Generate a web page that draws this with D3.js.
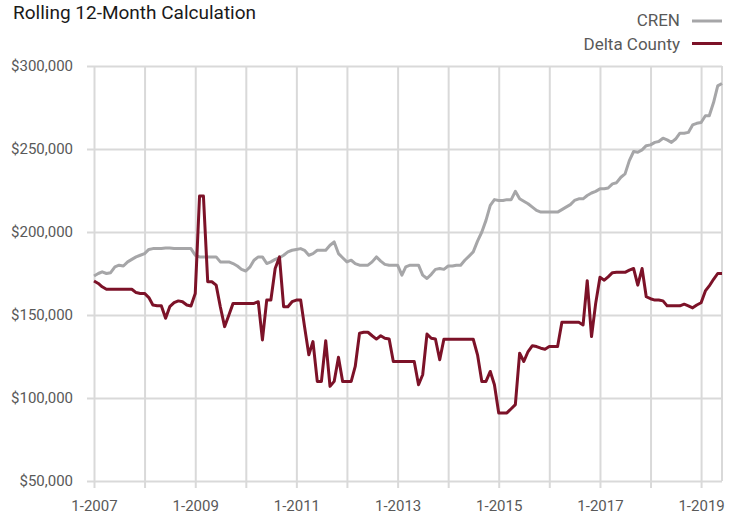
<!DOCTYPE html>
<html>
<head>
<meta charset="utf-8">
<script src="https://cdn.jsdelivr.net/npm/d3@7"></script>
<style>
  html, body { margin: 0; padding: 0; background: #fff; }
  svg text { font-family: Roboto, "Liberation Sans", Arial, sans-serif; }
</style>
</head>
<body>
<svg id="chart" width="740" height="515"></svg>
<script>
// ---- Data (values in $ thousands, monthly Jan 2007 – Jun 2019) ----
const startMonth = new Date(2007, 0, 1);
const endMonth = new Date(2019, 5, 1);
const months = d3.timeMonth.range(startMonth, d3.timeMonth.offset(endMonth, 1));

const crenValues = [
  173.5,175,176,175,175.5,179,180,179.5,182,183.5,
  185,186,187,189.5,190,190,190,190.3,190.3,190,
  190,190,190,190,186,185,185,185,185,185,
  182,182,182,181,179.5,177.5,176.5,179,183,185,
  185,181,182,183.5,184.5,186,188,189,189.5,190,
  189,186,187,189,189,189,192,194,187,184.5,
  182,183,181,180,180,180,182,185,182.5,180.5,
  180,180,180,174,179,180,180,180,174,172,
  174.5,177.5,178,177.5,179.5,179.5,180,180,183,185.5,
  188,194.5,200,207,216,219.5,219,219,219.5,219.5,
  224.5,220,218.5,217,215,213,212,212,212,212,
  212,213.5,215,216.5,219,220,220,222,223.5,224.5,
  226,226,226.5,229,229.7,233,235,243,248.5,248,
  249.5,252,252.5,254,254.5,256.5,255.5,254,256,259.5,
  259.5,260,264.5,265.5,266,270,270,278,288,289.5
];

const deltaValues = [
  170.5,169,167,165.5,165.5,165.5,165.5,165.5,165.5,165.5,
  163.5,163,163,160.5,156,155.6,155.6,148,155,157.4,
  158.5,158,156,155.4,163,221.7,221.7,170,170,168,
  155,143,150,157,157,157,157,157,157,158,
  135,159,159,178,185,155,155,158,159,159,
  143,126,134,110,110,134.5,107,110,124.5,110,
  110,110,119,139,139.6,139.6,137.5,135.5,137.5,136,
  135.5,122,122,122,122,122,122,108,114,138.5,
  136,135.5,123,135.4,135.4,135.4,135.4,135.4,135.4,135.4,
  135.4,126,110,110,116,108,91,91,91,93.5,
  96,127,122,128,131.5,131,130,129.4,131,131,
  131,145.6,145.6,145.6,145.6,145.6,144,170.7,137,157,
  172.7,171,173,175.5,175.7,175.7,175.7,177,178,168,
  178,161,159.8,159,159,158.5,155.5,155.5,155.5,155.5,
  156.5,155.5,154.3,156,157.4,164.5,167.5,171.5,175,175
];

const seriesNames = ["CREN", "Delta County"];
const seriesColors = ["#a6a6a8", "#7c1228"];
const yTickValues = [50000, 100000, 150000, 200000, 250000, 300000];
const xTickYears = [2007,2008,2009,2010,2011,2012,2013,2014,2015,2016,2017,2018,2019];
const xLabelYears = [2007,2009,2011,2013,2015,2017,2019];
const titleText = "Rolling 12-Month Calculation";

// ---- Layout ----
const svg = d3.select("#chart");
const plotLeft = 94, plotRight = 722, plotTop = 66, plotBottom = 481;

const x = d3.scaleTime().domain([startMonth, endMonth]).range([plotLeft, plotRight]);
const y = d3.scaleLinear().domain([50000, 300000]).range([plotBottom, plotTop]);

const gridColor = "#d9d9d9";
const textColor = "#595959";

// horizontal grid + left ticks
const gy = svg.append("g")
  .attr("transform", `translate(${plotLeft},0)`)
  .call(d3.axisLeft(y).tickValues(yTickValues).tickSize(7).tickPadding(14)
    .tickFormat(d => "$" + d3.format(",")(d)));
gy.select(".domain").remove();
gy.selectAll(".tick line").attr("stroke", gridColor).attr("stroke-width", 2);
gy.selectAll(".tick").append("line")
  .attr("x1", 0).attr("x2", plotRight - plotLeft)
  .attr("stroke", gridColor).attr("stroke-width", 2);
gy.selectAll(".tick text").attr("fill", textColor).style("font-size", "15px");

// vertical grid + bottom ticks
const xTicks = xTickYears.map(yr => new Date(yr, 0, 1));
const gx = svg.append("g")
  .attr("transform", `translate(0,${plotBottom})`)
  .call(d3.axisBottom(x).tickValues(xTicks).tickSize(7).tickPadding(12)
    .tickFormat(d => xLabelYears.includes(d.getFullYear()) ? "1-" + d.getFullYear() : ""));
gx.select(".domain").remove();
gx.selectAll(".tick line").attr("stroke", gridColor).attr("stroke-width", 2);
gx.selectAll(".tick").append("line")
  .attr("y1", 0).attr("y2", plotTop - plotBottom)
  .attr("stroke", gridColor).attr("stroke-width", 2);
gx.selectAll(".tick text").attr("fill", textColor).style("font-size", "15px");

// right border line
svg.append("line")
  .attr("x1", plotRight).attr("x2", plotRight).attr("y1", plotTop).attr("y2", plotBottom)
  .attr("stroke", gridColor).attr("stroke-width", 2);

// ---- Lines ----
const line = d3.line()
  .x(d => x(d.date))
  .y(d => y(d.value * 1000));

[crenValues, deltaValues].forEach((vals, i) => {
  const data = months.map((m, k) => ({ date: m, value: vals[k] }));
  svg.append("path")
    .datum(data)
    .attr("fill", "none")
    .attr("stroke", seriesColors[i])
    .attr("stroke-width", 3)
    .attr("stroke-linejoin", "round")
    .attr("stroke-linecap", "butt")
    .attr("d", line);
});

// ---- Title ----
svg.append("text")
  .attr("x", 13).attr("y", 18.5)
  .attr("fill", "#1a1a1a")
  .style("font-size", "19px")
  .text(titleText);

// ---- Legend ----
const legendY = [26, 50];
const legendLineY = [21, 43.5];
seriesNames.forEach((name, i) => {
  svg.append("text")
    .attr("x", 680).attr("y", legendY[i])
    .attr("text-anchor", "end")
    .attr("fill", textColor)
    .style("font-size", "17px")
    .text(name);
  svg.append("line")
    .attr("x1", 692).attr("x2", 722)
    .attr("y1", legendLineY[i]).attr("y2", legendLineY[i])
    .attr("stroke", seriesColors[i]).attr("stroke-width", 3);
});
</script>
</body>
</html>
